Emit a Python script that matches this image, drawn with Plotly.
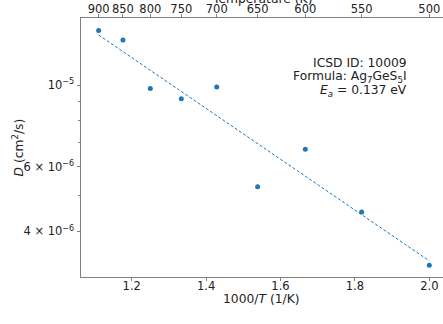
import numpy as np
import plotly.graph_objects as go

# Data
temps = [900, 850, 800, 750, 700, 650, 600, 550, 500]
diffusivity = [1.406e-5, 1.325e-5, 9.79e-6, 9.18e-6, 9.88e-6, 5.29e-6, 6.69e-6, 4.52e-6, 3.24e-6]
activation_energy = 0.137   # eV
prefactor = 8.0e-5          # cm^2/s
x_ticks = [1.2, 1.4, 1.6, 1.8, 2.0]
y_tickvals = [1e-5, 6e-6, 4e-6]
y_ticktext = ["10<sup>\u22125</sup>", "6 \u00d7 10<sup>\u22126</sup>", "4 \u00d7 10<sup>\u22126</sup>"]
y_minor = [9e-6, 8e-6, 7e-6, 5e-6]
info_lines = ["ICSD ID: 10009", "Formula: Ag<sub>7</sub>GeS<sub>5</sub>I",
              f"<i>E<sub>a</sub></i> = {activation_energy:.3f} eV"]

K_B = 8.617e-5  # eV/K
inv_t = [1000.0 / t for t in temps]
fit_x = [inv_t[0], inv_t[-1]]
fit_y = [prefactor * np.exp(-activation_energy * v / (K_B * 1000.0)) for v in fit_x]

BLUE = "#1f77b4"
SPINE = "#808080"
TXT = "#222222"
FONT = "DejaVu Sans"

fig = go.Figure()
fig.add_trace(go.Scatter(x=fit_x, y=fit_y, mode="lines",
                         line=dict(color=BLUE, width=1, dash="3px,2px"),
                         showlegend=False, hoverinfo="skip"))
fig.add_trace(go.Scatter(x=inv_t, y=diffusivity, mode="markers",
                         marker=dict(color=BLUE, size=5), showlegend=False))
# invisible trace for top axis
fig.add_trace(go.Scatter(x=inv_t, y=diffusivity, mode="markers", xaxis="x2",
                         marker=dict(opacity=0), showlegend=False, hoverinfo="skip"))

xr = [1.0637, 2.0368]
fig.update_layout(
    width=443, height=324,
    margin=dict(l=81, r=0, t=18, b=47, autoexpand=False),
    paper_bgcolor="white", plot_bgcolor="white",
    font=dict(family=FONT, size=11.5, color=TXT),
    xaxis=dict(range=xr, tickvals=x_ticks, ticktext=[f"{v:.1f}" for v in x_ticks],
               showgrid=False, zeroline=False, showline=True, linecolor=SPINE, linewidth=1,
               ticks="outside", ticklen=3, tickcolor=SPINE, tickfont=dict(size=11.5),
               ticklabelstandoff=-5, automargin=False),
    xaxis2=dict(range=xr, overlaying="x", side="top", anchor="y",
                tickvals=inv_t, ticktext=[str(t) for t in temps],
                showgrid=False, zeroline=False, showline=True, linecolor=SPINE, linewidth=1,
                ticks="outside", ticklen=3, tickcolor=SPINE, tickfont=dict(size=11.5),
                ticklabelstandoff=-4, automargin=False),
    yaxis=dict(type="log", range=[-5.5217, -4.8179], tickvals=y_tickvals, ticktext=y_ticktext,
               showgrid=False, zeroline=False, showline=True, linecolor=SPINE, linewidth=1,
               ticks="outside", ticklen=3.5, tickcolor=SPINE, tickfont=dict(size=11.5),
               automargin=False,
               minor=dict(tickvals=y_minor, ticks="outside", ticklen=2, tickcolor=SPINE, showgrid=False)),
)

ann = []
ann.append(dict(text="1000/<i>T</i> (1/K)", xref="paper", yref="paper", x=0.5, y=0,
                yshift=-22, yanchor="middle", xanchor="center", showarrow=False,
                font=dict(size=12.3), xshift=-1))
ann.append(dict(text="<i>D</i> (cm<sup>2</sup>/s)", xref="paper", yref="paper", x=0, y=0.5,
                xshift=-64, xanchor="center", yanchor="middle", textangle=-90, showarrow=False,
                font=dict(size=12.3)))
ann.append(dict(text="Temperature (K)", xref="paper", yref="paper", x=0.5, y=1,
                yshift=10, xanchor="center", yanchor="bottom", showarrow=False,
                font=dict(size=12.3)))
for i, line in enumerate(info_lines):
    ann.append(dict(text=line, xref="paper", yref="paper", x=(409.3 - 81) / 362, y=1,
                    xanchor="right", yanchor="middle", yshift=-(62.5 - 18) - 14 * i,
                    showarrow=False, font=dict(size=12.3)))
fig.update_layout(annotations=ann)

fig.write_html("out.html")
